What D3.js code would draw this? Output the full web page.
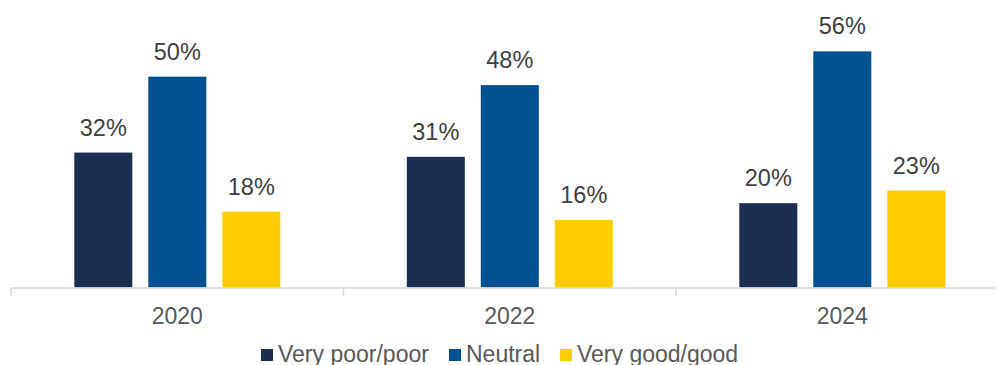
<!DOCTYPE html>
<html>
<head>
<meta charset="utf-8">
<script src="https://cdn.jsdelivr.net/npm/d3@7"></script>
<style>
  html, body { margin: 0; padding: 0; background: #fff; }
  svg { display: block; font-family: "Liberation Sans", Arial, sans-serif; }
</style>
</head>
<body>
<svg id="chart" width="996" height="365"></svg>
<script>
// Survey years and rating shares (%)
const years = ["2020", "2022", "2024"];
const seriesNames = ["Very poor/poor", "Neutral", "Very good/good"];
const veryPoorPoor = [32, 31, 20];
const neutral = [50, 48, 56];
const veryGoodGood = [18, 16, 23];
const seriesColors = ["#1c2e4f", "#00518f", "#ffcc00"];

const seriesValues = [veryPoorPoor, neutral, veryGoodGood];

const svg = d3.select("#chart");
const baseY = 287.5;
const groupW = 332.5;
const axisLeft = 11;

// One band per year, spanning the full axis (the last group runs past the right edge)
const x0 = d3.scaleBand()
  .domain(years)
  .range([axisLeft, axisLeft + groupW * years.length])
  .paddingInner(0).paddingOuter(0);

// Bars within a year group
const x1 = d3.scaleBand()
  .domain(seriesNames)
  .range([63.3, 269.3])
  .paddingInner(0.216).paddingOuter(0);

const y = d3.scaleLinear().domain([0, 60]).range([baseY, baseY - 253]);

const color = d3.scaleOrdinal().domain(seriesNames).range(seriesColors);

// Bars
const groups = svg.selectAll("g.year")
  .data(years)
  .join("g")
  .attr("class", "year")
  .attr("transform", d => `translate(${x0(d)},0)`);

groups.selectAll("rect")
  .data((d, i) => seriesNames.map((s, j) => ({ s, v: seriesValues[j][i] })))
  .join("rect")
  .attr("x", d => x1(d.s))
  .attr("width", x1.bandwidth())
  .attr("y", d => y(d.v))
  .attr("height", d => y(0) - y(d.v))
  .attr("fill", d => color(d.s));

// Value labels
groups.selectAll("text.val")
  .data((d, i) => seriesNames.map((s, j) => ({ s, v: seriesValues[j][i] })))
  .join("text")
  .attr("class", "val")
  .attr("x", d => x1(d.s) + x1.bandwidth() / 2)
  .attr("y", d => y(d.v) - 17)
  .attr("text-anchor", "middle")
  .attr("font-size", 23.5)
  .attr("fill", "#404040")
  .text(d => d.v + "%");

// Category axis: light baseline with ticks at group boundaries
const axisG = svg.append("g").attr("transform", `translate(0,${baseY + 0.5})`);
axisG.append("line")
  .attr("x1", axisLeft).attr("x2", axisLeft + groupW * years.length)
  .attr("stroke", "#d9d9d9").attr("stroke-width", 1.5);
const boundaries = years.map(d => x0(d)).concat([axisLeft + groupW * years.length]);
axisG.selectAll("line.tick")
  .data(boundaries)
  .join("line")
  .attr("class", "tick")
  .attr("x1", d => d).attr("x2", d => d)
  .attr("y1", 0).attr("y2", 8)
  .attr("stroke", "#d9d9d9").attr("stroke-width", 1.5);
axisG.selectAll("text")
  .data(years)
  .join("text")
  .attr("x", d => x0(d) + x0.bandwidth() / 2)
  .attr("y", 35.5)
  .attr("text-anchor", "middle")
  .attr("font-size", 23)
  .attr("fill", "#595959")
  .text(d => d);

// Legend
const legendItems = [
  { name: seriesNames[0], x: 261 },
  { name: seriesNames[1], x: 449 },
  { name: seriesNames[2], x: 560 }
];
const legend = svg.append("g");
const li = legend.selectAll("g")
  .data(legendItems)
  .join("g")
  .attr("transform", d => `translate(${d.x},0)`);
li.append("rect")
  .attr("x", 0).attr("y", 349)
  .attr("width", 12).attr("height", 12)
  .attr("fill", d => color(d.name));
li.append("text")
  .attr("x", 17).attr("y", 361.5)
  .attr("font-size", 23)
  .attr("fill", "#595959")
  .text(d => d.name);
</script>
</body>
</html>
